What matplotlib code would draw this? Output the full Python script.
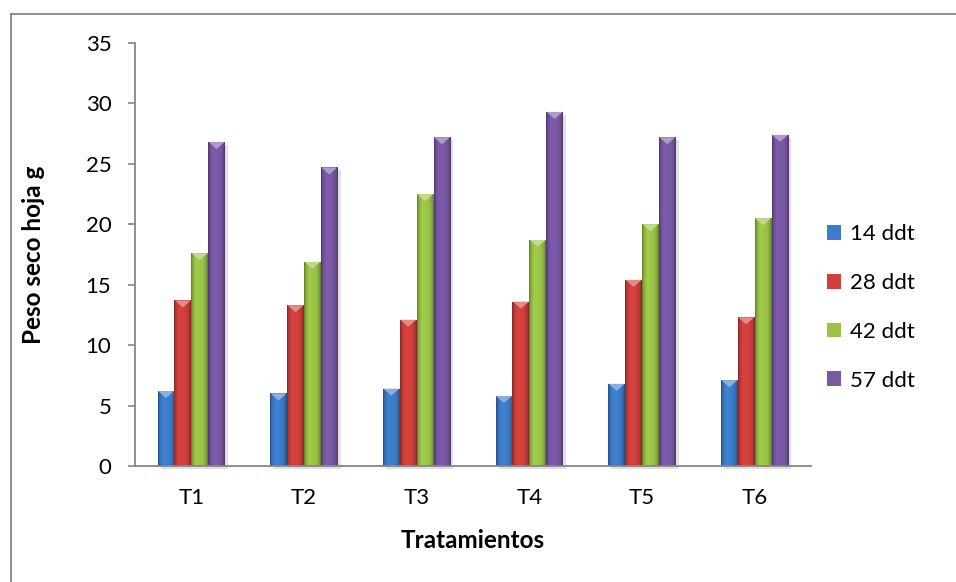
import numpy as np
import matplotlib
matplotlib.use('Agg')
import matplotlib.pyplot as plt
from matplotlib.colors import to_rgb
from matplotlib.patches import Polygon, Rectangle
from matplotlib.lines import Line2D

categories = ['T1', 'T2', 'T3', 'T4', 'T5', 'T6']
series_names = ['14 ddt', '28 ddt', '42 ddt', '57 ddt']
v14 = [6.2, 6.0, 6.4, 5.8, 6.8, 7.1]
v28 = [13.7, 13.3, 12.1, 13.6, 15.4, 12.3]
v42 = [17.6, 16.9, 22.5, 18.7, 20.0, 20.5]
v57 = [26.8, 24.7, 27.2, 29.3, 27.2, 27.4]
series_values = [v14, v28, v42, v57]
y_ticks = [0, 5, 10, 15, 20, 25, 30, 35]

colors = ['#3C7CC8', '#CE3F3C', '#9AC246', '#7A58A4']

plt.rcParams['font.family'] = ['Lato', 'DejaVu Sans']

fig = plt.figure(figsize=(9.56, 5.82), dpi=100)
ax = fig.add_axes([135 / 956, 1 - 466 / 582, 676 / 956, 423 / 582])
ax.set_xlim(-0.5, 5.5)
ax.set_ylim(0, 35)

x = np.arange(len(categories))
width = 0.15
offsets = (np.arange(len(series_names)) - 1.5) * width

px_per_unit = ax.transData.transform((0, 1))[1] - ax.transData.transform((0, 0))[1]
px_per_xunit = ax.transData.transform((1, 0))[0] - ax.transData.transform((0, 0))[0]
bevel = 7 / px_per_unit
sh_x = 3 / px_per_xunit
sh_y = 3 / px_per_unit

t = np.linspace(0, 1, 64)
prof = np.interp(t, [0, 0.1, 0.3, 0.7, 0.9, 1], [0.62, 0.88, 1.05, 1.0, 0.85, 0.6])

handles = []
for vals, name, c, off in zip(series_values, series_names, colors, offsets):
    bars = ax.bar(x + off, vals, width, color=c, label=name, zorder=2, linewidth=0)
    handles.append(bars)
    base = np.array(to_rgb(c))
    img = np.clip(base[None, :] * prof[:, None], 0, 1)[None, :, :]
    light = base + (1 - base) * 0.4
    for p in bars.patches:
        x0, w, h = p.get_x(), p.get_width(), p.get_height()
        sh = Rectangle((x0 + sh_x, -sh_y), w, h, color='#000000', alpha=0.12,
                       linewidth=0, zorder=1.9, clip_on=False)
        ax.add_patch(sh)
        im = ax.imshow(img, extent=[x0, x0 + w, 0, h], aspect='auto', zorder=2.1,
                       interpolation='bilinear')
        im.set_clip_path(p)
        tri = Polygon([(x0 + w * 0.03, h), (x0 + w * 0.97, h), (x0 + w / 2, h - bevel)],
                      closed=True, facecolor=light, edgecolor='none', zorder=2.2)
        ax.add_patch(tri)

ax.set_xlim(-0.5, 5.5)
ax.set_ylim(0, 35)
ax.set_xticks(x)
ax.set_xticklabels(categories)
ax.set_yticks(y_ticks)

for s in ['top', 'right']:
    ax.spines[s].set_visible(False)
for s in ['left', 'bottom']:
    ax.spines[s].set_color('#868686')
    ax.spines[s].set_linewidth(1.3)
    ax.spines[s].set_zorder(3)

ax.tick_params(axis='y', direction='out', length=5, width=1.2, color='#868686',
               labelsize=16, pad=12)
ax.tick_params(axis='x', length=0, labelsize=16, pad=16)

fig.text(34 / 956, 1 - 255 / 582, 'Peso seco hoja g', rotation=90, ha='center',
         va='center', fontsize=17.5, fontweight='bold')
fig.text(473 / 956, 1 - 541 / 582, 'Tratamientos', ha='center', va='center',
         fontsize=17.5, fontweight='bold')

fig.legend(handles=handles, labels=series_names, loc='upper left',
           bbox_to_anchor=(827 / 956, 1 - 224 / 582), frameon=False,
           handlelength=0.65, handleheight=0.65, handletextpad=0.4,
           labelspacing=1.3, fontsize=16, borderaxespad=0, borderpad=0)

fig.add_artist(Line2D([10.5 / 956, 10.5 / 956], [0, 1 - 13.5 / 582], color='#868686',
                      linewidth=1.3, transform=fig.transFigure))
fig.add_artist(Line2D([10.5 / 956, 1], [1 - 13.5 / 582, 1 - 13.5 / 582], color='#868686',
                      linewidth=1.3, transform=fig.transFigure))

fig.savefig('out.png', dpi=100)
